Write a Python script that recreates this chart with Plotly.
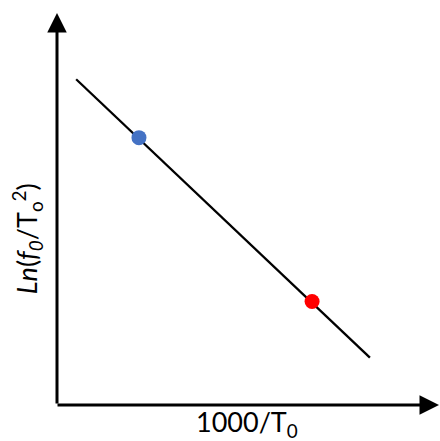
import plotly.graph_objects as go

# Data (arbitrary units)
line_x = [0.50, 8.17]
line_y = [8.31, 1.21]
pt_x = [2.14, 6.66]
pt_y = [6.82, 2.64]
pt_colors = ["#4472C4", "#FF0000"]

x_label = "1000/T<sub>0</sub>"
y_label = "<i>Ln</i>(<i>f<sub>0</sub></i>/T<sub>o</sub><sup>2</sup>)"

fig = go.Figure()
fig.add_trace(go.Scatter(x=line_x, y=line_y, mode="lines",
                         line=dict(color="black", width=2.3), hoverinfo="skip"))
fig.add_trace(go.Scatter(x=pt_x, y=pt_y, mode="markers",
                         marker=dict(color=pt_colors, size=15, symbol="circle",
                                     line=dict(width=0)),
                         hoverinfo="skip"))

# axes arrows
fig.add_annotation(xref="paper", yref="paper", x=0, y=1, ax=0, ay=392,
                   axref="pixel", ayref="pixel", text="", showarrow=True,
                   arrowhead=2, arrowsize=1.3, arrowwidth=3, arrowcolor="black")
fig.add_annotation(xref="paper", yref="paper", x=1, y=0, ax=-384, ay=0,
                   axref="pixel", ayref="pixel", text="", showarrow=True,
                   arrowhead=2, arrowsize=1.3, arrowwidth=3, arrowcolor="black")

fig.add_annotation(xref="paper", yref="paper", x=0.496, y=-0.047,
                   xanchor="center", yanchor="middle",
                   text=x_label, showarrow=False,
                   font=dict(family="Lato", size=27, color="black"))
fig.add_annotation(xref="paper", yref="paper", x=0, y=0.423, xshift=-30,
                   xanchor="center", yanchor="middle",
                   text=y_label, showarrow=False, textangle=-90,
                   font=dict(family="Lato", size=27, color="black"))

fig.update_layout(
    width=440, height=441,
    margin=dict(l=57, r=0, t=13, b=36),
    paper_bgcolor="white", plot_bgcolor="white",
    showlegend=False,
    xaxis=dict(range=[0, 10], visible=False, fixedrange=True),
    yaxis=dict(range=[0, 10], visible=False, fixedrange=True),
)
fig.write_html("out.html", config={"displayModeBar": False})
